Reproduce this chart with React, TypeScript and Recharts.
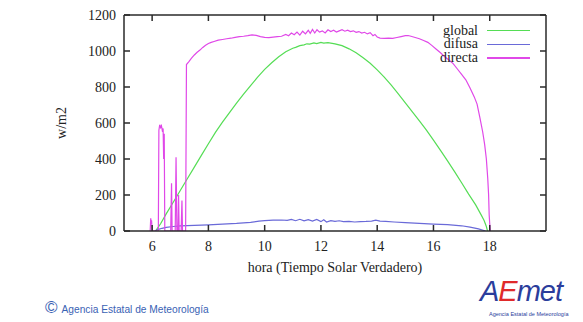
import React from 'react';
import { LineChart, Line, XAxis, YAxis } from 'recharts';

// ---- data (hour, W/m2) ----
const globalSeries: [number, number][] = [
  [6.12, 0], [6.3, 40], [6.5, 95], [6.75, 160], [7.0, 225], [7.25, 290], [7.5, 355], [7.75, 420],
  [8.0, 485], [8.25, 548], [8.5, 605], [8.75, 658], [9.0, 710], [9.25, 760], [9.5, 808], [9.75, 855],
  [10.0, 898], [10.25, 935], [10.5, 968], [10.75, 996], [11.0, 1015], [11.1, 1020], [11.25, 1030], [11.4, 1034],
  [11.5, 1040], [11.6, 1038], [11.75, 1045], [11.85, 1041], [12.0, 1048], [12.1, 1044], [12.25, 1047],
  [12.5, 1040], [12.75, 1030], [13.0, 1012], [13.25, 990], [13.5, 962], [13.75, 932], [14.0, 895],
  [14.25, 855], [14.5, 810], [14.75, 762], [15.0, 712], [15.25, 662], [15.5, 612], [15.75, 560],
  [16.0, 505], [16.25, 448], [16.5, 390], [16.75, 330], [17.0, 268], [17.25, 205], [17.5, 145],
  [17.7, 88], [17.8, 58], [17.88, 25], [17.92, 0],
];

const difusaSeries: [number, number][] = [
  [6.1, 0], [6.2, 8], [6.35, 15], [6.5, 20], [6.75, 25], [7.0, 28], [7.5, 31], [8.0, 34], [8.5, 38],
  [9.0, 42], [9.5, 48], [9.8, 55], [10.0, 58], [10.3, 60], [10.6, 61], [10.8, 59], [10.95, 64],
  [11.1, 57], [11.25, 65], [11.4, 56], [11.55, 63], [11.7, 55], [11.85, 64], [12.0, 52], [12.1, 62],
  [12.2, 50], [12.35, 58], [12.5, 53], [12.65, 57], [12.8, 52], [13.0, 54], [13.2, 50], [13.4, 52],
  [13.6, 53], [13.8, 55], [13.95, 60], [14.1, 55], [14.3, 54], [14.6, 50], [15.0, 46], [15.5, 42],
  [16.0, 38], [16.5, 35], [17.0, 29], [17.3, 22], [17.6, 12], [17.85, 0],
];

const directaSeries: [number, number][] = [
  [5.93, 0], [5.95, 70], [5.97, 40], [5.98, 60], [6.0, 0],
  [6.22, 0], [6.24, 560], [6.27, 590], [6.3, 575], [6.33, 585], [6.36, 560], [6.39, 570], [6.41, 400],
  [6.43, 540], [6.45, 0], [6.66, 0], [6.69, 265], [6.71, 0], [6.82, 0], [6.85, 410], [6.88, 0],
  [6.92, 0], [6.94, 200], [6.96, 0], [7.03, 0], [7.06, 170], [7.08, 0], [7.19, 0],
  [7.22, 925], [7.3, 940], [7.4, 960], [7.5, 978], [7.6, 993], [7.7, 1005], [7.8, 1020], [7.9, 1032],
  [8.0, 1042], [8.1, 1048], [8.2, 1053], [8.35, 1060], [8.5, 1064], [8.65, 1068], [8.8, 1071],
  [8.95, 1076], [9.1, 1080], [9.25, 1082], [9.4, 1085], [9.55, 1090], [9.7, 1087], [9.85, 1080],
  [10.0, 1076], [10.15, 1074], [10.3, 1077], [10.45, 1080], [10.6, 1082], [10.75, 1092], [10.85, 1085],
  [10.95, 1100], [11.05, 1090], [11.15, 1105], [11.25, 1088], [11.35, 1110], [11.45, 1095],
  [11.55, 1115], [11.62, 1098], [11.7, 1120], [11.78, 1100], [11.86, 1118], [11.95, 1105],
  [12.05, 1112], [12.15, 1100], [12.25, 1118], [12.35, 1108], [12.45, 1115], [12.55, 1105],
  [12.65, 1112], [12.75, 1118], [12.85, 1110], [12.95, 1116], [13.05, 1108], [13.15, 1112],
  [13.25, 1104], [13.35, 1108], [13.45, 1100], [13.55, 1104], [13.65, 1095], [13.75, 1102],
  [13.85, 1085], [13.92, 1092], [14.0, 1078], [14.1, 1072], [14.25, 1070], [14.4, 1072],
  [14.55, 1070], [14.7, 1075], [14.85, 1080], [15.0, 1085], [15.1, 1086], [15.2, 1082], [15.35, 1075],
  [15.5, 1068], [15.65, 1058], [15.8, 1048], [15.95, 1030], [16.1, 1010], [16.25, 990], [16.4, 968],
  [16.55, 950], [16.7, 930], [16.85, 900], [17.0, 870], [17.15, 840], [17.3, 795], [17.45, 745],
  [17.55, 705], [17.65, 630], [17.75, 550], [17.82, 480], [17.88, 400], [17.93, 290], [17.96, 200],
  [17.98, 90], [18.0, 40], [18.02, 0],
];

const xTicks = [6, 8, 10, 12, 14, 16, 18];
const yTicks = [0, 200, 400, 600, 800, 1000, 1200];
const seriesNames = ['global', 'difusa', 'directa'];
const xLabel = 'hora (Tiempo Solar Verdadero)';
const yLabel = 'w/m2';
const footerText = 'Agencia Estatal de Meteorología';

const COLORS: Record<string, string> = {
  global: '#55dd55',
  difusa: '#6a6ad8',
  directa: '#e048e8',
};

const toPts = (s: [number, number][]) => s.map(([h, v]) => ({ h, v }));
const seriesData: Record<string, { h: number; v: number }[]> = {
  global: toPts(globalSeries),
  difusa: toPts(difusaSeries),
  directa: toPts(directaSeries),
};

const AXIS = '#2a2a2a';
const tickFont = { fontFamily: 'Liberation Serif', fontSize: 14, fill: '#222' };
const serif = 'Liberation Serif';

export default function App() {
  return (
    <div style={{ position: 'absolute', left: 0, top: 0, width: 583, height: 322, background: '#fff', overflow: 'hidden' }}>
      <LineChart width={583} height={322} margin={{ top: 5, right: 27, bottom: 60, left: 60 }}>
        <XAxis xAxisId="b" dataKey="h" type="number" domain={[5, 20]} ticks={xTicks} allowDataOverflow
          height={31} orientation="bottom" stroke={AXIS} strokeWidth={1.5}
          tickSize={-6} tickMargin={16} tick={tickFont} tickLine={{ stroke: AXIS, strokeWidth: 1.5 }} />
        <XAxis xAxisId="t" dataKey="h" type="number" domain={[5, 20]} ticks={xTicks} allowDataOverflow
          height={10} orientation="top" stroke={AXIS} strokeWidth={1.5}
          tickSize={-6} tickFormatter={() => ''} tickLine={{ stroke: AXIS, strokeWidth: 1.5 }} />
        <YAxis yAxisId="l" type="number" domain={[0, 1200]} ticks={yTicks} allowDataOverflow width={64}
          orientation="left" stroke={AXIS} strokeWidth={1.5}
          tickSize={-6} tickMargin={14} tick={tickFont} tickLine={{ stroke: AXIS, strokeWidth: 1.5 }} />
        <YAxis yAxisId="r" type="number" domain={[0, 1200]} ticks={yTicks} allowDataOverflow width={10}
          orientation="right" stroke={AXIS} strokeWidth={1.5}
          tickSize={-6} tickFormatter={() => ''} tickLine={{ stroke: AXIS, strokeWidth: 1.5 }} />
        {seriesNames.map((n) => (
          <Line key={n} xAxisId="b" yAxisId="l" data={seriesData[n]} dataKey="v" name={n} type="linear"
            stroke={COLORS[n]} strokeWidth={1.2} dot={false} activeDot={false} isAnimationActive={false} />
        ))}
      </LineChart>

      {/* y label */}
      <div style={{ position: 'absolute', left: 62 - 40, top: 123 - 9, width: 80, height: 18, lineHeight: '18px',
        textAlign: 'center', transform: 'rotate(-90deg)', fontFamily: serif, fontSize: 14, color: '#222' }}>{yLabel}</div>

      {/* x label */}
      <div style={{ position: 'absolute', left: 335 - 150, top: 268 - 9, width: 300, height: 18, lineHeight: '18px',
        textAlign: 'center', fontFamily: serif, fontSize: 14, color: '#222' }}>{xLabel}</div>

      {/* legend */}
      {seriesNames.map((n, i) => (
        <div key={n} style={{ position: 'absolute', left: 380, top: 30.5 + i * 13.7 - 8, width: 160, height: 16 }}>
          <div style={{ position: 'absolute', right: 62, top: 0, lineHeight: '16px', fontFamily: serif, fontSize: 14, color: '#222', whiteSpace: 'nowrap' }}>{n}</div>
          <div style={{ position: 'absolute', left: 107, top: 7.5, width: 43, height: 1.2, background: COLORS[n] }} />
        </div>
      ))}

      {/* footer */}
      <div style={{ position: 'absolute', left: 45, top: 299, height: 18, lineHeight: '18px', whiteSpace: 'nowrap',
        fontFamily: 'Liberation Sans', color: '#3a62b4' }}>
        <span style={{ fontSize: 17, marginRight: 4 }}>©</span>
        <span style={{ fontSize: 10.2 }}>{footerText}</span>
      </div>

      {/* logo */}
      <div style={{ position: 'absolute', left: 480, top: 276, width: 90, height: 30, lineHeight: '30px', whiteSpace: 'nowrap',
        fontFamily: 'Liberation Sans', fontStyle: 'italic', fontSize: 29, letterSpacing: -1 }}>
        <span style={{ color: '#2b3d9c' }}>A</span>
        <span style={{ color: '#e02a2a' }}>E</span>
        <span style={{ color: '#2b3d9c' }}>met</span>
      </div>
      <div style={{ position: 'absolute', left: 489, top: 310, width: 70, height: 8, lineHeight: '8px', whiteSpace: 'nowrap',
        fontFamily: 'Liberation Sans', fontSize: 5.5, color: '#2b3d9c' }}>{footerText}</div>
    </div>
  );
}
